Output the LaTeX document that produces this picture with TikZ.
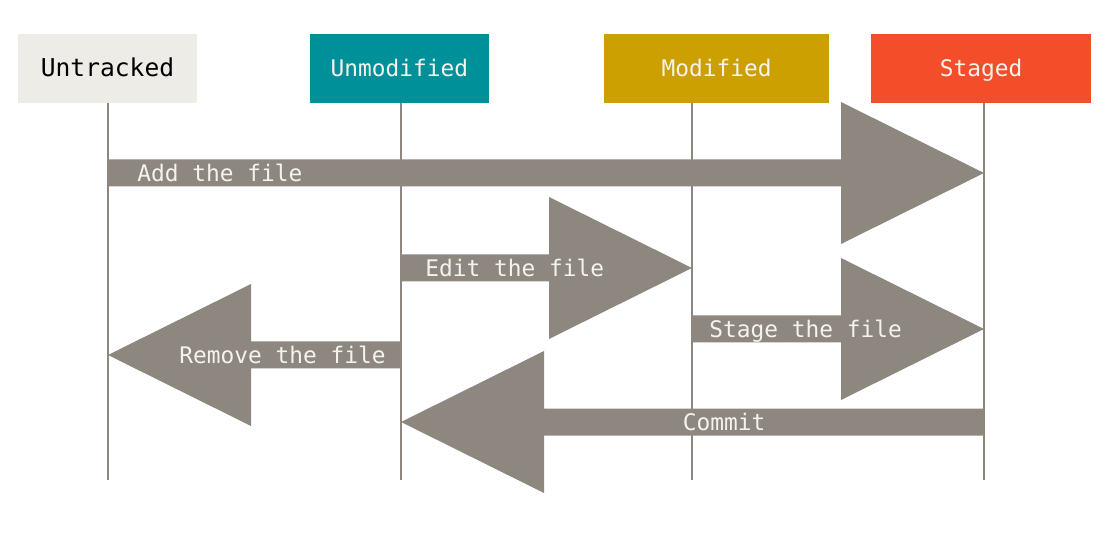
\documentclass[tikz,border=0pt]{standalone}
\usepackage{fontspec}
\usepackage{tikz}
\usetikzlibrary{positioning}
\newfontfamily\monolabel{DejaVu Sans Mono}
\definecolor{kutuBej}{HTML}{EDECE6}
\definecolor{kutuCamgobegi}{HTML}{00909A}
\definecolor{kutuHardal}{HTML}{CCA000}
\definecolor{kutuTuruncu}{HTML}{F44D2A}
\definecolor{okGri}{HTML}{8D877F}
\definecolor{yaziAcik}{HTML}{F5F3EE}
\begin{document}
\begin{tikzpicture}[x=0.02cm, y=-0.02cm,
  every node/.style={font=\monolabel\fontsize{13}{15}\selectfont, text height=9.5pt, text depth=0pt},
  statebox/.style={minimum height=1.38cm, inner sep=0pt},
  lifeline/.style={draw=okGri, line width=1.2pt},
  flow/.style={fill=okGri},
  flowlabel/.style={text=yaziAcik, inner sep=0pt}]
\useasboundingbox (0,0) rectangle (1111,543);
\node[statebox,fill=kutuBej,minimum width=3.58cm,font=\monolabel\fontsize{14}{16}\selectfont] (untracked) at (107.5,68.5) {Untracked};
\node[statebox,fill=kutuCamgobegi,text=yaziAcik,minimum width=3.58cm] (unmodified) at (399.5,68.5) {Unmodified};
\node[statebox,fill=kutuHardal,text=yaziAcik,minimum width=4.5cm] (modified) at (716.5,68.5) {Modified};
\node[statebox,fill=kutuTuruncu,text=yaziAcik,minimum width=4.4cm] (staged) at (981,68.5) {Staged};
% lifelines
\foreach \n/\x in {untracked/108, unmodified/401, modified/692, staged/984}{
  \coordinate (\n top) at (\x,103);
  \coordinate (\n bot) at (\x,480);
  \draw[lifeline] (\n top) -- (\n bot);
}
% fat arrows: from x / to x / y
\foreach \fx/\tx/\y in {108/984/173, 401/692/268, 692/984/329, 401/108/355, 984/401/422}{
  \pgfmathsetmacro\hx{\tx-143*sign(\tx-\fx)}
  \fill[flow] (\fx,\y-13.5) -- (\hx,\y-13.5) -- (\hx,\y-71) -- (\tx,\y)
    -- (\hx,\y+71) -- (\hx,\y+13.5) -- (\fx,\y+13.5) -- cycle;
}
\node[flowlabel,anchor=west] (add) at (137,173) {Add the file};
\node[flowlabel,anchor=west] (edit) at (425,268) {Edit the file};
\node[flowlabel,anchor=west] (stage) at (709,329) {Stage the file};
\node[flowlabel,anchor=east] (remove) at (386,355) {Remove the file};
\node[flowlabel] (commit) at (724,422) {Commit};
\end{tikzpicture}
\end{document}
